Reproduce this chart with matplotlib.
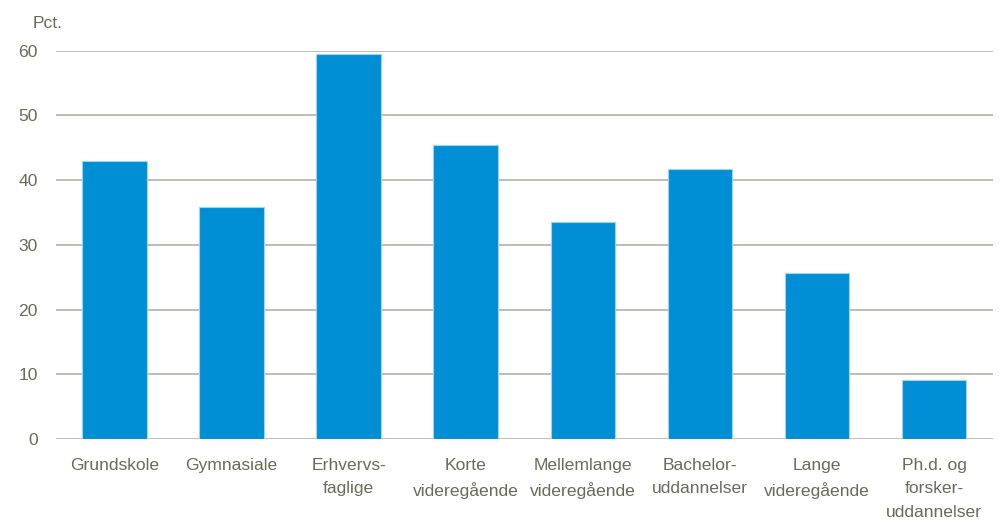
import numpy as np
import matplotlib
matplotlib.use('Agg')
import matplotlib.pyplot as plt

plt.rcParams['font.family'] = ['Liberation Sans', 'DejaVu Sans']

categories = ['Grundskole', 'Gymnasiale', 'Erhvervs-\nfaglige', 'Korte\nvideregående',
              'Mellemlange\nvideregående', 'Bachelor-\nuddannelser', 'Lange\nvideregående',
              'Ph.d. og\nforsker-\nuddannelser']
values = [43.0, 35.8, 59.5, 45.5, 33.6, 41.7, 25.7, 9.1]
yticks = [0, 10, 20, 30, 40, 50, 60]

txt = '#6a6a5a'
bar_col = '#008fd5'
grid_col = '#b8b8aa'

fig = plt.figure(figsize=(9.99, 5.28), dpi=100)
ax = fig.add_axes([0.056, 0.1686, 0.9375, 0.7354])

x = np.arange(len(categories))
ax.bar(x, values, width=0.55, color=bar_col, edgecolor='#9fd3ef', linewidth=0.8, zorder=3)

ax.set_xlim(-0.5, len(categories) - 0.5)
ax.set_ylim(0, 60)
ax.set_yticks(yticks)
ax.set_yticklabels([str(v) for v in yticks])
ax.yaxis.grid(True, color=grid_col, linewidth=1.3, zorder=0)
ax.set_axisbelow(True)

ax.set_xticks(x)
ax.set_xticklabels(categories, linespacing=1.7, va='top')
ax.tick_params(axis='x', length=0, pad=13.5, labelsize=12.6, labelcolor=txt)
ax.tick_params(axis='y', length=0, pad=13, labelsize=12.6, labelcolor=txt)
for s in ax.spines.values():
    s.set_visible(False)

fig.text(0.033, 0.955, 'Pct.', fontsize=12.6, color=txt, ha='left', va='center')

fig.savefig('out.png', dpi=100, facecolor='white')
